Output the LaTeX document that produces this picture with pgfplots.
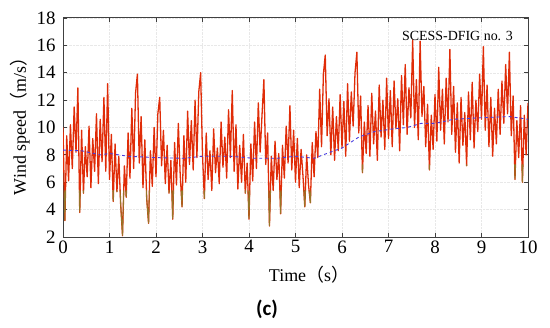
\documentclass[border=0pt]{standalone}
\usepackage{fontspec}
\setmainfont{Liberation Serif}
\newfontfamily\cjk{Noto Sans CJK SC}
\newfontfamily\capfont{Carlito}
\usepackage{pgfplots}
\usepackage{pgfplotstable}
\pgfplotsset{compat=1.18}
\definecolor{windred}{RGB}{224,44,8}
\definecolor{windolive}{RGB}{150,118,40}
\definecolor{meanblue}{RGB}{70,60,225}
\pgfplotstableread{
y
10.0
3.2
9.4
6.1
10.2
7.0
11.5
8.2
12.9
3.8
9.8
5.2
8.6
6.4
10.1
5.6
9.2
6.8
11.0
5.9
10.6
7.5
12.2
6.8
13.2
6.2
9.5
4.6
8.8
5.3
7.9
4.4
2.1
7.2
4.9
9.6
6.3
11.4
7.0
12.5
13.9
7.4
10.8
5.6
9.1
4.8
3.0
8.3
5.7
10.0
6.4
11.0
12.2
7.2
9.8
5.9
8.7
5.2
7.6
3.3
8.9
5.8
10.3
6.6
4.2
9.4
6.0
11.2
7.3
10.5
6.9
12.0
7.8
12.6
14.0
8.0
4.8
9.6
6.2
8.3
5.4
9.9
6.7
8.5
5.9
10.4
7.1
9.3
6.3
11.3
7.8
12.7
6.8
10.2
5.5
8.7
6.0
9.5
5.2
7.4
3.3
8.8
6.1
10.4
7.0
11.8
8.2
10.9
13.5
7.3
9.6
2.8
7.9
5.4
9.0
6.2
8.1
3.7
8.7
6.3
10.1
7.4
11.6
6.9
9.8
6.0
9.2
5.6
8.4
6.5
4.2
8.0
5.8
4.5
8.9
6.4
9.7
7.8
12.8
8.6
13.9
15.3
9.4
12.1
8.0
11.5
7.6
10.8
8.3
12.4
8.5
11.9
7.9
13.2
9.0
12.6
10.1
14.0
15.5
9.6
12.3
6.7
10.4
8.1
11.6
7.9
12.5
8.8
11.2
7.6
13.1
9.3
12.0
8.4
13.6
9.2
12.7
8.6
13.4
9.9
12.1
8.3
13.8
10.2
14.6
9.5
12.9
10.7
16.4
10.0
13.5
9.1
16.3
10.8
13.0
8.6
11.7
6.9
10.9
8.4
12.4
9.0
14.4
9.8
12.8
8.8
13.6
10.4
15.7
9.5
13.0
8.2
11.8
7.4
12.2
8.7
11.1
7.2
12.6
9.1
13.3
8.5
12.0
9.7
13.9
10.6
15.9
9.8
13.1
8.6
12.2
7.9
11.4
8.8
12.8
9.5
13.4
10.3
14.6
11.0
15.5
9.4
12.3
6.2
10.5
7.8
11.6
6.0
10.9
8.0
11.8
}\windtable
\pgfplotstableread{
x y
0.0 8.35
0.4 8.3
0.8 8.0
1.0 8.1
1.4 7.9
2.0 7.8
2.6 7.75
3.0 7.9
3.6 7.9
4.1 7.75
4.6 7.75
5.0 7.9
5.4 7.75
5.75 8.2
6.0 8.5
6.36 9.3
6.7 9.7
7.1 9.9
7.4 10.0
7.7 10.3
8.0 10.3
8.4 10.6
8.9 10.7
9.6 10.8
10.0 10.6
}\meantable
\begin{document}
\begin{tikzpicture}
\begin{axis}[
  scale only axis,
  width=465bp, height=219bp,
  xmin=0, xmax=10, ymin=2, ymax=18,
  xtick={0,1,...,10}, ytick={2,4,...,18},
  tick align=inside,
  major tick length=4bp,
  grid=major,
  grid style={densely dotted, black!9, line width=0.4bp},
  axis line style={black!75, line width=1bp},
  every tick/.style={black!75, line width=0.8bp},
  tick label style={font=\fontsize{19}{19}\selectfont},
  /pgf/number format/assume math mode=true,
  yticklabel style={xshift=-4bp},
  every axis x label/.style={at={(axis description cs:0.529,0)}, yshift=-38bp, anchor=center},
  every axis y label/.style={at={(axis description cs:0,0.525)}, xshift=-43bp, rotate=90, anchor=center},
  label style={font=\fontsize{18}{18}\selectfont},
  xlabel={Time{\cjk （}s{\cjk ）}},
  ylabel={Wind speed{\cjk （}m/s{\cjk ）}},
]
\addplot[windred, line width=1.3bp, line join=round] table[x expr=\coordindex*0.04, y=y] {\windtable};
\begin{scope}
\clip (axis cs:0,1) -- (axis cs:0,5.4) -- (axis cs:5.45,5.4) -- (axis cs:5.6,7.3) -- (axis cs:10,7.3) -- (axis cs:10,1) -- cycle;
\addplot[windolive, line width=0.9bp] table[x expr=\coordindex*0.04, y=y] {\windtable};
\end{scope}
\addplot[meanblue, dashed, line width=0.9bp] table[x=x, y=y] {\meantable};
\node[anchor=east, font=\fontsize{14}{14}\selectfont] at (axis description cs:0.975,0.92) {SCESS-DFIG no. 3};
\end{axis}
\node[font=\capfont\bfseries\fontsize{21}{21}\selectfont] at (204bp,-72bp) {(c)};
\pgfresetboundingbox
\path[use as bounding box] (-63bp,-91bp) rectangle (487bp,237bp);
\end{tikzpicture}
\end{document}
